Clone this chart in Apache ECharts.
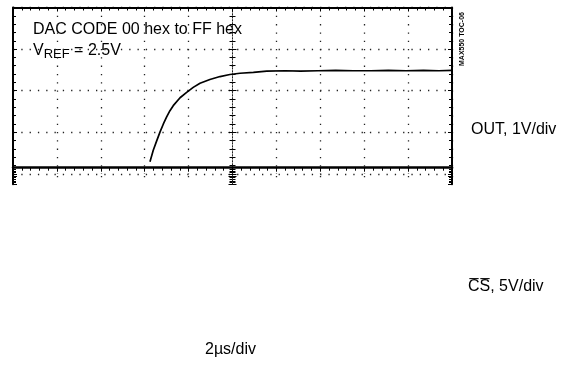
<!DOCTYPE html>
<html>
<head>
<meta charset="utf-8">
<script src="https://cdn.jsdelivr.net/npm/echarts@6/dist/echarts.min.js"></script>
<style>html,body{margin:0;background:#fff}#chart{width:570px;height:371px}</style>
</head>
<body>
<div id="chart"></div>
<script>
// OUT trace: time in us (2us/div), output in V (1V/div)
var outTime  = [6.24, 6.39, 6.55, 6.70, 6.85, 7.00, 7.15, 7.30, 7.61, 7.91, 8.21, 8.52, 8.97, 9.43, 9.88, 10.34, 10.95, 11.56, 12.4, 13.1, 13.9, 14.7, 15.5, 16.3, 17.1, 17.9, 18.7, 19.4, 20];
var outVolts = [0.29, 0.57, 0.80, 1.01, 1.20, 1.37, 1.52, 1.64, 1.83, 1.96, 2.08, 2.18, 2.27, 2.34, 2.39, 2.42, 2.44, 2.47, 2.48, 2.47, 2.48, 2.49, 2.48, 2.48, 2.49, 2.48, 2.49, 2.48, 2.49];

var xTicks = {min: 0, max: 20, interval: 2};   // 10 divisions
var yTicks = {min: 0, max: 4, interval: 1};    // visible OUT divisions

var FONT = 'Liberation Sans, Arial, sans-serif';
var dots = {color: '#222', width: 1.3, type: [1.3, 7]};

var outData = outTime.map(function (t, i) { return [t, outVolts[i]]; });

function borderX(grid, width) {
    return {
        gridIndex: grid, type: 'value', position: 'top',
        min: xTicks.min, max: xTicks.max, interval: xTicks.interval,
        axisLine: {show: true, onZero: false, lineStyle: {color: '#000', width: width}},
        axisTick: {show: true, inside: true, length: 4, lineStyle: {color: '#000'}},
        minorTick: {show: true, splitNumber: 5, length: 3, lineStyle: {color: '#000'}},
        axisLabel: {show: false},
        splitLine: {show: true, lineStyle: dots}
    };
}

function borderY(grid, pos, offset, lo, hi, step, line, split) {
    return {
        gridIndex: grid, type: 'value', position: pos, offset: offset,
        min: lo, max: hi, interval: step,
        axisLine: {show: true, onZero: false, lineStyle: line},
        axisTick: {show: true, inside: true, length: 4, lineStyle: {color: '#000'}},
        minorTick: {show: true, splitNumber: 5, length: 3, lineStyle: {color: '#000'}},
        axisLabel: {show: false},
        splitLine: {show: split, lineStyle: dots}
    };
}

var solid = {color: '#000', width: 2};
var centre = {color: '#222', width: 1, type: [1, 2]};

var chart = echarts.init(document.getElementById('chart'));
chart.setOption({
    animation: false,
    backgroundColor: '#fff',
    grid: [
        {left: 13, top: 7.5, width: 439, height: 166.4},
        {left: 13, top: 167.7, width: 439, height: 16.6}
    ],
    xAxis: [borderX(0, 2), borderX(1, 2.5)],
    yAxis: [
        borderY(0, 'left', 0, yTicks.min, yTicks.max, yTicks.interval, solid, true),
        borderY(0, 'right', 0, yTicks.min, yTicks.max, yTicks.interval, solid, false),
        borderY(0, 'left', -219.5, yTicks.min, yTicks.max, yTicks.interval, centre, false),
        borderY(0, 'right', -219.5, yTicks.min, yTicks.max, yTicks.interval, centre, false),
        borderY(1, 'left', 0, -0.4, 0, 0.2, solid, false),
        borderY(1, 'right', 0, -0.4, 0, 0.2, solid, false),
        borderY(1, 'left', -219.5, -0.4, 0, 0.2, centre, false),
        borderY(1, 'right', -219.5, -0.4, 0, 0.2, centre, false)
    ],
    series: [{
        name: 'OUT', type: 'line', xAxisIndex: 0, yAxisIndex: 0,
        data: outData, showSymbol: false, smooth: false,
        lineStyle: {color: '#000', width: 1.7}
    }],
    graphic: [
        {type: 'text', left: 33, top: 22, style: {text: 'DAC CODE 00 hex to FF hex', font: '16px ' + FONT, fill: '#000'}},
        {type: 'text', left: 33, top: 43, style: {
            text: '{v|V}{s|REF}{v| = 2.5V}', fill: '#000',
            rich: {v: {font: '16px ' + FONT}, s: {font: '13px ' + FONT, padding: [7, 0, 0, 0]}}
        }},
        {type: 'text', left: 471, top: 122, style: {text: 'OUT, 1V/div', font: '16px ' + FONT, fill: '#000'}},
        {type: 'text', left: 468, top: 279, style: {text: 'C\u0305S\u0305, 5V/div', font: '16px ' + FONT, fill: '#000'}},
        {type: 'text', left: 205, top: 342, style: {text: '2\u00b5s/div', font: '16px ' + FONT, fill: '#000'}},
        {type: 'text', x: 462, y: 66, rotation: Math.PI / 2, style: {text: 'MAX550 TOC-06', font: 'bold 7px ' + FONT, fill: '#000', textVerticalAlign: 'middle'}}
    ]
});
</script>
</body>
</html>
